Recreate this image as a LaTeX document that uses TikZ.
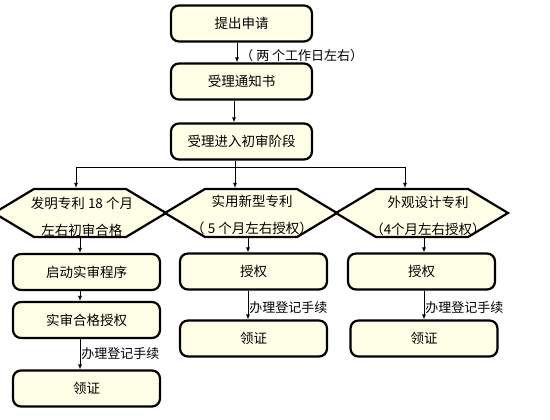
\documentclass[tikz,border=0pt]{standalone}
\usepackage{fontspec}
\newfontfamily\cjk{Noto Sans CJK SC}
\usetikzlibrary{arrows.meta,shapes.symbols}
\definecolor{boxfill}{RGB}{255,255,232}
\begin{document}
\begin{tikzpicture}[x=1pt,y=-1pt,
  >={Latex[length=5pt,width=4pt]},
  every node/.style={font=\cjk\fontsize{13.5}{27}\selectfont},
  stepbox/.style={draw,line width=2.2pt,rounded corners=8pt,fill=boxfill,minimum width=141pt,minimum height=36pt,inner sep=0pt},
  lowbox/.style={stepbox,minimum width=147pt},
  hexbox/.style={draw,line width=2.2pt,fill=boxfill,shape=signal,signal to=east and west,signal pointer angle=62,minimum width=172pt,minimum height=48pt,inner sep=0pt},
  hextext/.style={align=center,inner sep=0pt},
  link/.style={->,line width=0.8pt},
  note/.style={right,inner sep=0pt,font=\cjk\fontsize{13}{15}\selectfont}]
\useasboundingbox (0,0) rectangle (550,420);

\node[stepbox] (ask) at (241.5,23.5) {提出申请};
\node[stepbox] (notice) at (241.5,81.5) {受理通知书};
\node[stepbox] (prelim) at (241.5,141.5) {受理进入初审阶段};
\draw[link] ([xshift=-4.5pt]ask.south) -- node[note,pos=0.64,xshift=3pt] (twodays) {（ 两 个工作日左右）} ([xshift=-4.5pt]notice.north);
\draw[link] ([xshift=-7.5pt]notice.south) -- ([xshift=-7.5pt]prelim.north);

\node[hexbox] (hexA) at (80,213) {};
\node[hexbox] (hexB) at (251,213) {};
\node[hexbox] (hexC) at (422,213) {};
\node[hextext] (textA) at (82,216.5) {发明专利 18 个月\\左右初审合格};
\node[hextext] (textB) at (252,215) {实用新型专利\\（ 5 个月左右授权）};
\node[hextext] (textC) at (428,215.5) {外观设计专利\\（4个月左右授权）};

\coordinate (split) at (235,167);
\coordinate (splitA) at (76,167);
\coordinate (splitC) at (405,167);
\draw[line width=0.8pt] (prelim.south -| split) -- (split);
\draw[line width=0.8pt] (splitA) -- (splitC);
\draw[link] (splitA) -- (splitA |- hexA.north);
\draw[link] (split) -- (split |- hexB.north);
\draw[link] (splitC) -- (splitC |- hexC.north);

\node[lowbox] (startexam) at (86.5,272) {启动实审程序};
\node[lowbox] (passgrant) at (86.5,320) {实审合格授权};
\node[lowbox] (certA) at (86.5,388.5) {领证};
\node[lowbox] (grantB) at (253.5,271.5) {授权};
\node[lowbox] (certB) at (253.5,338.5) {领证};
\node[lowbox] (grantC) at (421.5,271.5) {授权};
\node[lowbox] (certC) at (424,338.5) {领证};

\draw[link] (hexA.south) -- (hexA.south |- startexam.north);
\draw[link] (hexA.south |- startexam.south) -- (hexA.south |- passgrant.north);
\draw[link] (hexA.south |- passgrant.south) -- node[note,pos=0.47,xshift=1pt] (regA) {办理登记手续} (hexA.south |- certA.north);
\draw[link] ([xshift=-3pt]hexB.south) -- ([xshift=-3pt]hexB.south |- grantB.north);
\draw[link] ([xshift=-3pt]hexB.south |- grantB.south) -- node[note,pos=0.6,xshift=1pt] (regB) {办理登记手续} ([xshift=-3pt]hexB.south |- certB.north);
\draw[link] ([xshift=2pt]hexC.south) -- ([xshift=2pt]hexC.south |- grantC.north);
\draw[link] ([xshift=2pt]hexC.south |- grantC.south) -- node[note,pos=0.6,xshift=1pt] (regC) {办理登记手续} ([xshift=2pt]hexC.south |- certC.north);
\end{tikzpicture}
\end{document}
